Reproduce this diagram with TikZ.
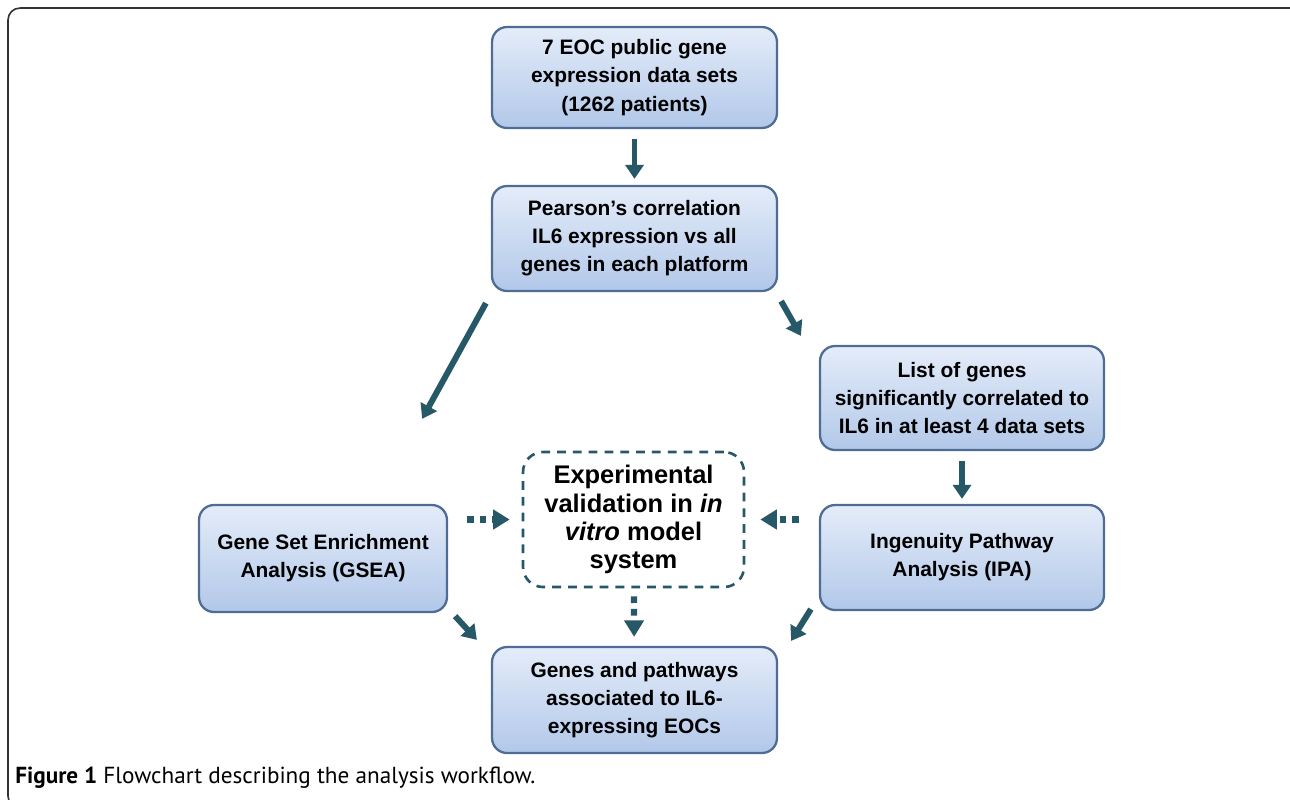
\documentclass[tikz,border=0pt]{standalone}
\usepackage{fontspec}
\setmainfont{Liberation Sans}
\newfontfamily\capfont{PT Sans}
\usetikzlibrary{arrows.meta}
\definecolor{arrteal}{RGB}{38,88,104}
\definecolor{boxedge}{RGB}{78,108,148}
\definecolor{boxtop}{RGB}{228,236,249}
\definecolor{boxbot}{RGB}{178,200,233}
\begin{document}
\begin{tikzpicture}[x=0.02cm,y=-0.02cm,
    flowbox/.style={draw=boxedge, line width=1.3pt, rounded corners=0.3cm,
        top color=boxtop, bottom color=boxbot, align=center,
        font=\fontsize{11.9}{16}\selectfont\bfseries, inner sep=0pt},
    validbox/.style={draw=arrteal, line width=1.5pt, dash pattern=on 5pt off 4pt,
        rounded corners=0.4cm, fill=white, align=center,
        font=\fontsize{14.5}{16}\selectfont\bfseries, inner sep=0pt},
    arr/.style={draw=arrteal, line width=3.4pt, -{Triangle[length=0.28cm,width=0.36cm]}},
    dotarr/.style={draw=arrteal, line width=3.6pt, dash pattern=on 3.8pt off 3.4pt,
        -{Triangle[length=0.33cm,width=0.38cm]}}]
    \useasboundingbox (0,0) rectangle (1290,799);
    \draw[line width=0.9pt, draw=black!80, rounded corners=0.24cm] (8,8) rectangle (1302,808);

    \node[flowbox, minimum width=5.7cm, minimum height=2.02cm] (eoc) at (634.5,77.5)
        {7 EOC public gene\\expression data sets\\(1262 patients)};
    \node[flowbox, minimum width=5.7cm, minimum height=2.1cm] (pearson) at (634.5,238.5)
        {Pearson's correlation\\IL6 expression vs all\\genes in each platform};
    \node[flowbox, minimum width=5.68cm, minimum height=2.08cm] (list) at (962,398)
        {List of genes\\significantly correlated to\\IL6 in at least 4 data sets};
    \node[flowbox, minimum width=5.68cm, minimum height=2.1cm] (ipa) at (962,557.5)
        {Ingenuity Pathway\\Analysis (IPA)};
    \node[flowbox, minimum width=4.96cm, minimum height=2.14cm] (gsea) at (323,558.5)
        {Gene Set Enrichment\\Analysis (GSEA)};
    \node[flowbox, minimum width=5.7cm, minimum height=2.12cm] (genes) at (634.5,700)
        {Genes and pathways\\associated to IL6-\\expressing EOCs};
    \node[validbox, minimum width=4.42cm, minimum height=2.7cm] (valid) at (633.5,519.5)
        {Experimental\\validation in \textit{in}\\\textit{vitro} model\\system};

    \draw[arr, shorten <=0.2cm, shorten >=0.12cm] (eoc) -- (pearson);
    \draw[arr] ([shift={(-5,11)}]pearson.south west) -- ([shift={(-26,-85)}]gsea.north east);
    \draw[arr] ([shift={(3,9)}]pearson.south east) -- ([shift={(-18,-9)}]list.north west);
    \draw[arr, shorten <=0.2cm, shorten >=0.1cm] (list) -- (ipa);
    \draw[arr] ([shift={(7,3)}]gsea.south east) -- ([shift={(-14,-6)}]genes.north west);
    \draw[arr] ([shift={(-8,-2)}]ipa.south west) -- ([shift={(13,-5)}]genes.north east);

    \draw[dotarr] ([xshift=0.38cm]gsea.east |- valid) -- ([xshift=-0.24cm]valid.west);
    \draw[dotarr] ([xshift=-0.4cm]ipa.west |- valid) -- ([xshift=0.3cm]valid.east);
    \draw[dotarr, shorten <=0.16cm, shorten >=0.18cm] (valid) -- (genes);

    \node[anchor=base west, inner sep=0pt, font=\capfont\fontsize{13.2}{15}\selectfont] (caption) at (15,783)
        {\textbf{Figure 1} Flowchart describing the analysis workflow.};
\end{tikzpicture}
\end{document}
